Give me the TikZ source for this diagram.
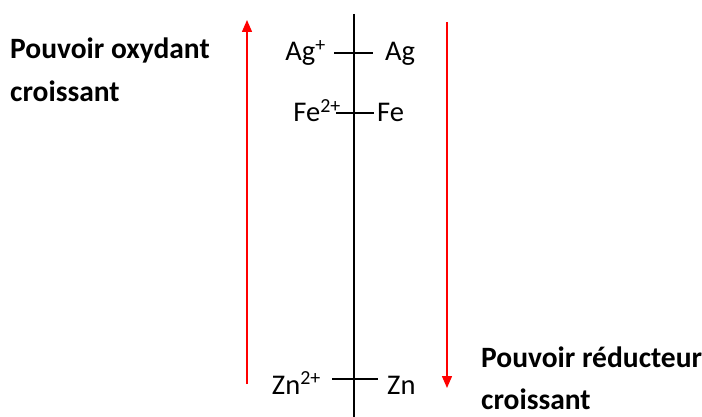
\documentclass[tikz,border=0pt]{standalone}
\usepackage{fontspec}
\setmainfont{Carlito}
\usetikzlibrary{arrows.meta}
\begin{document}
\begin{tikzpicture}[x=1pt,y=-1pt,
  lbl/.style={inner sep=0pt,font=\fontsize{28.5}{32}\selectfont},
  big/.style={inner sep=0pt,font=\fontsize{29.5}{34}\selectfont\bfseries},
  axis/.style={black,line width=1.3pt},
  redarrow/.style={red,line width=1.4pt,-{Triangle[length=12pt,width=10pt]}}]
\useasboundingbox (0,0) rectangle (702,417);
% axis
\coordinate (top) at (354,14);
\coordinate (bot) at (354,417);
\draw[axis] (top) -- (bot);
% ticks
\coordinate (agL) at (334,53); \coordinate (agR) at (373,53);
\coordinate (feL) at (336,113); \coordinate (feR) at (374,113);
\coordinate (znL) at (332,379); \coordinate (znR) at (378,379);
\draw[axis] (agL) -- (agR);
\draw[axis] (feL) -- (feR);
\draw[axis] (znL) -- (znR);
% labels
\node[lbl,anchor=base east] (agp) at (326,61) {Ag\textsuperscript{+}};
\node[lbl,anchor=base west] (ag) at (385,61) {Ag};
\node[lbl,anchor=base east] (fep) at (341,122) {Fe\textsuperscript{2+}};
\node[lbl,anchor=base west] (fe) at (377,122) {Fe};
\node[lbl,anchor=base east] (znp) at (321,394) {Zn\textsuperscript{2+}};
\node[lbl,anchor=base west] (zn) at (387,394) {Zn};
% red arrows
\coordinate (upS) at (247,384); \coordinate (upE) at (247,20);
\coordinate (dnS) at (447,22); \coordinate (dnE) at (447,388);
\draw[redarrow] (upS) -- (upE);
\draw[redarrow] (dnS) -- (dnE);
% side texts
\node[big,anchor=base west] (ox1) at (10,59) {Pouvoir oxydant};
\node[big,anchor=base west] (ox2) at (10,102) {croissant};
\node[big,anchor=base west] (re1) at (481,367) {Pouvoir réducteur};
\node[big,anchor=base west] (re2) at (481,409) {croissant};
\end{tikzpicture}
\end{document}
